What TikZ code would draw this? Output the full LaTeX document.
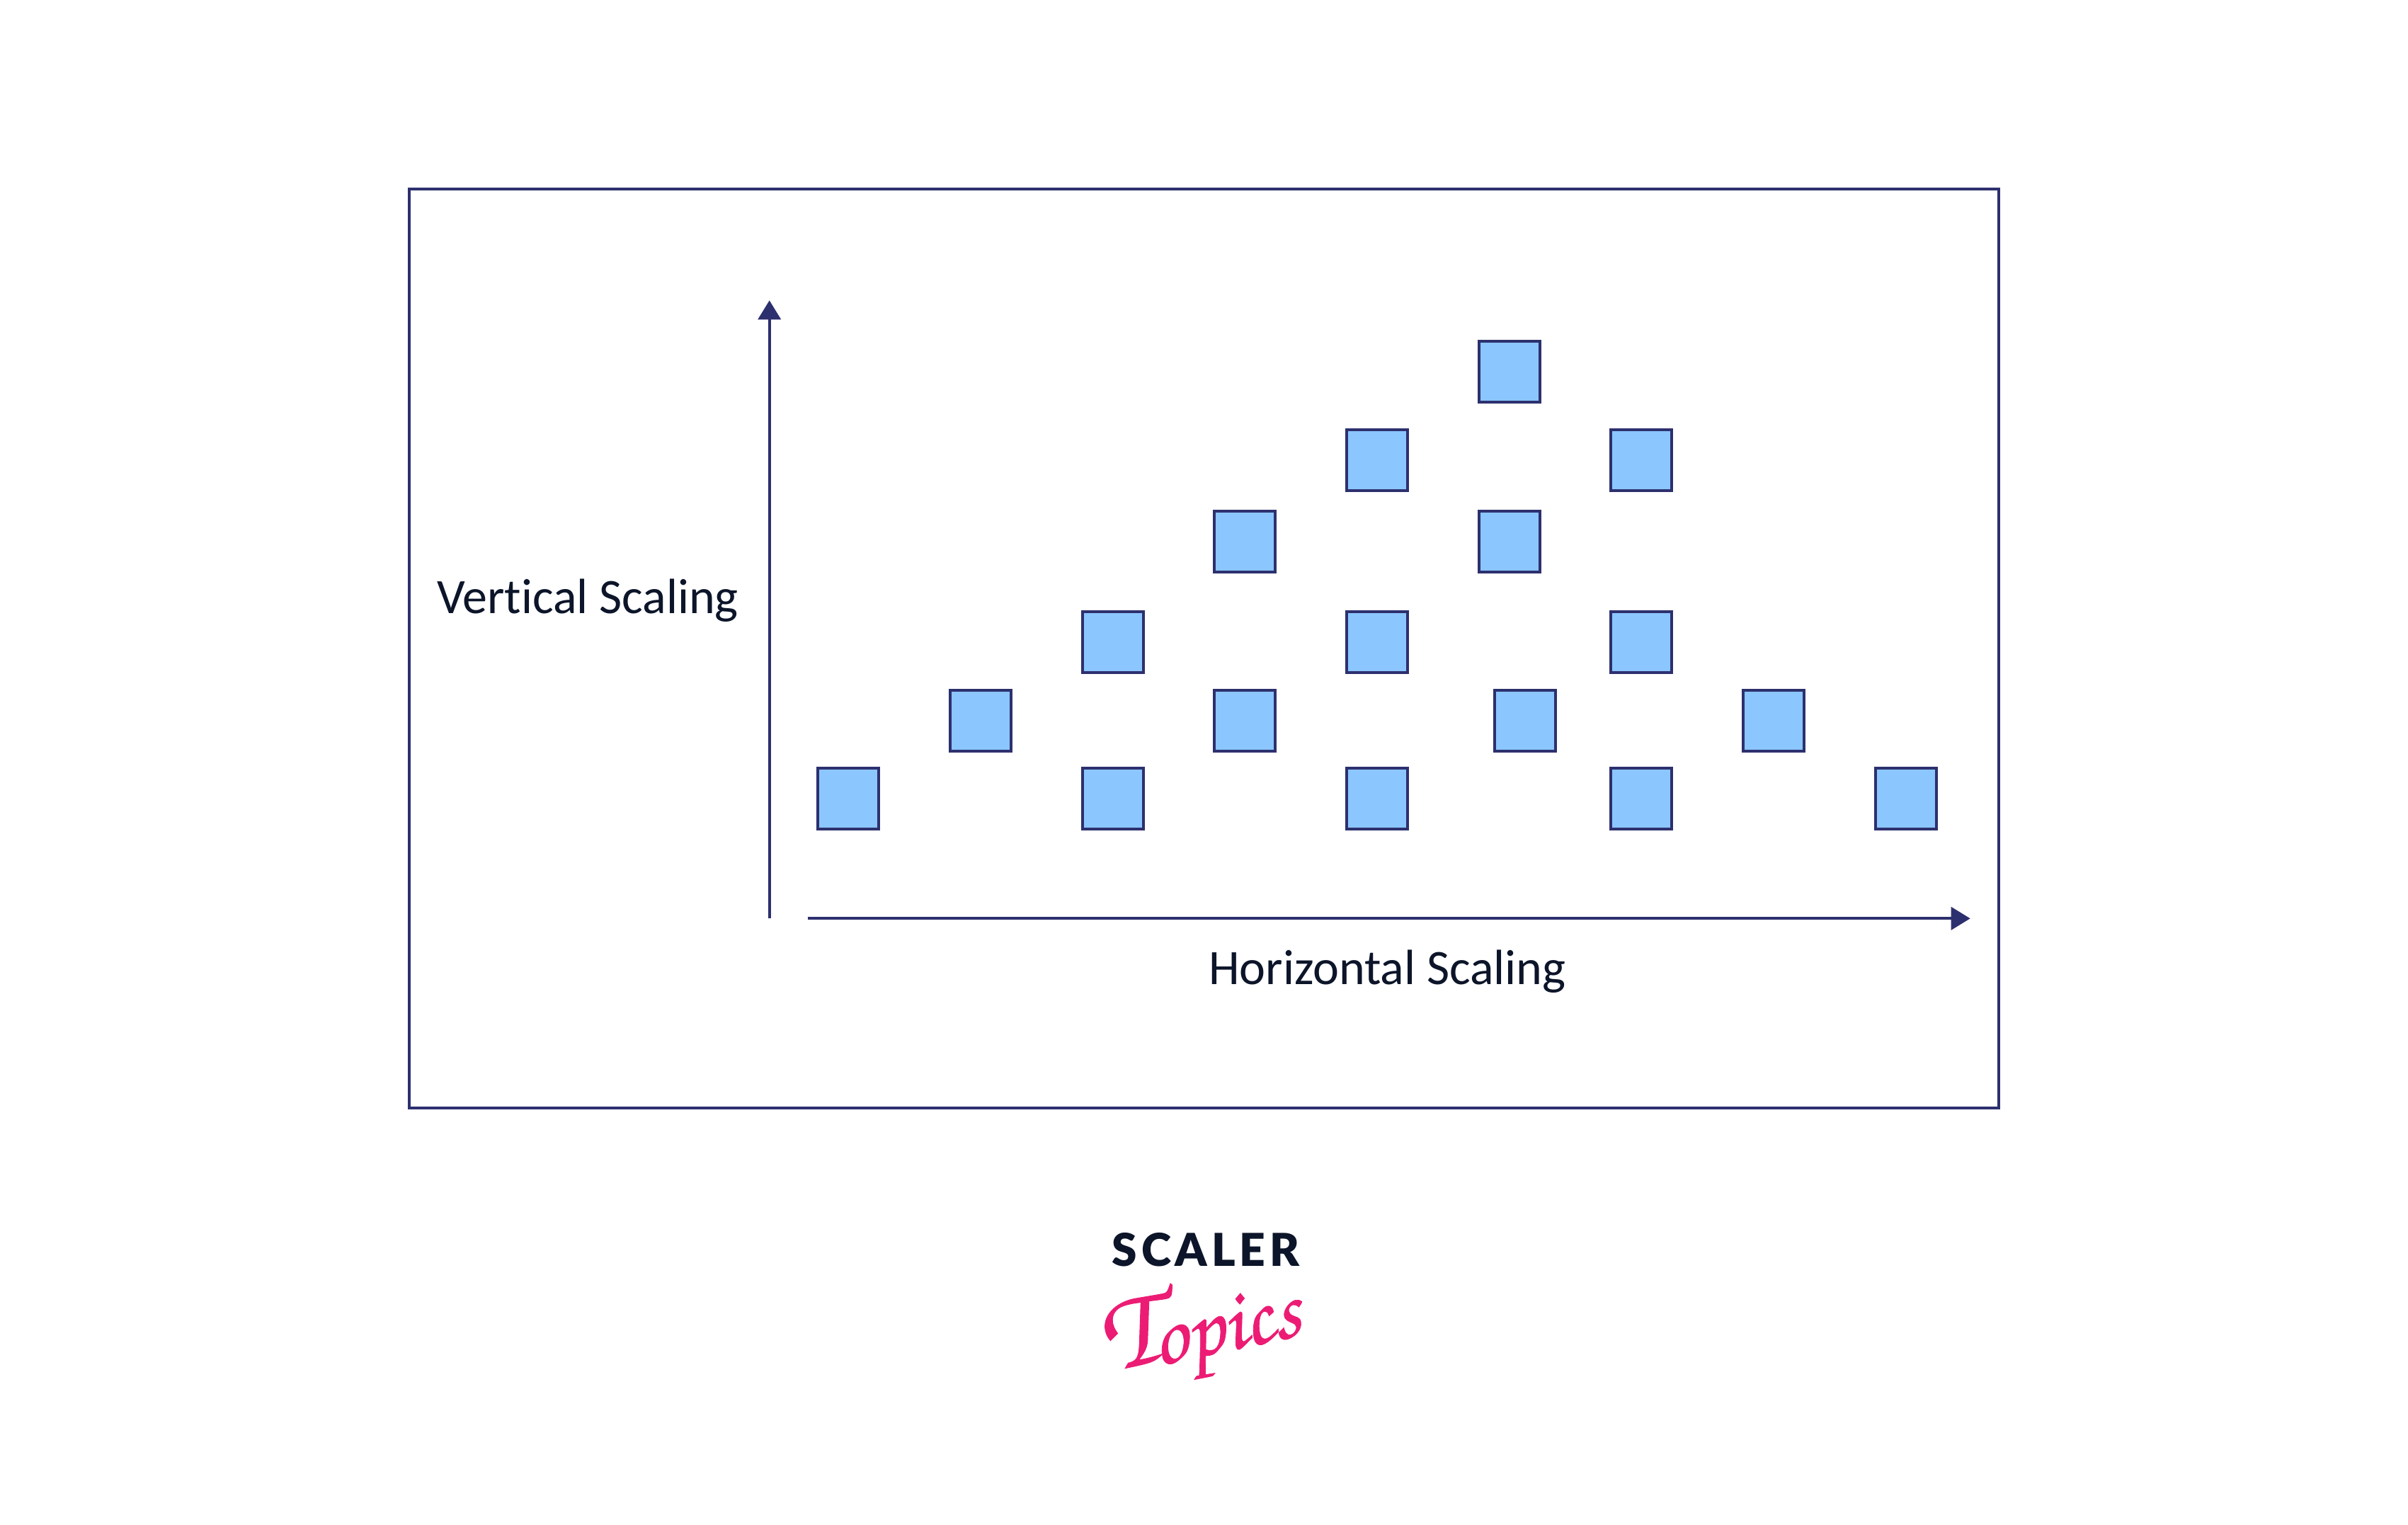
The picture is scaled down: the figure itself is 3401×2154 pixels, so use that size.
\documentclass[tikz,border=0pt]{standalone}
\usepackage{fontspec}
\usetikzlibrary{arrows.meta}
\setmainfont[Ligatures=NoCommon]{Carlito}
\newfontfamily\logobold[LetterSpace=9]{Lato Black}
\newfontfamily\logoscript[FakeBold=0.6]{TeX Gyre Chorus}
\definecolor{navy}{HTML}{2D306E}
\definecolor{sky}{HTML}{8BC6FF}
\definecolor{ink}{HTML}{0C1529}
\definecolor{pink}{HTML}{EC1C74}
\tikzset{
  block/.style={draw=navy,fill=sky,line width=4pt,minimum size=86pt,inner sep=0pt,outer sep=0pt},
  frame/.style={draw=navy,line width=4pt,inner sep=0pt,outer sep=0pt,minimum width=2245pt,minimum height=1298pt},
  axis/.style={draw=navy,line width=4pt,-{Triangle[length=27pt,width=32pt]}},
  lab/.style={text=ink,anchor=base,inner sep=0pt,font=\fontsize{70}{84}\selectfont}
}
\begin{document}
\begin{tikzpicture}[x=1pt,y=-1pt]
\useasboundingbox (0,0) rectangle (3401,2154);
\fill[white] (0,0) rectangle (3401,2154);
\node[frame] (box) at (1700.5,916) {};
\coordinate (vs) at (1086.7,1297.3);
\coordinate (ve) at (1086.7,424.3);
\coordinate (hs) at (1140.7,1297.3);
\coordinate (he) at (2782.7,1297.3);
\draw[axis] (vs) -- (ve);
\draw[axis] (hs) -- (he);
\node[lab] (vlabel) at (830,866) {Vertical Scaling};
\node[lab] (hlabel) at (1959.5,1390) {Horizontal Scaling};
\foreach \n/\x/\y in {
 a1/1198.3/1128.3,a2/1571.5/1128.3,a3/1945/1128.3,a4/2318/1128.3,a5/2691.5/1128.3,
 b1/1385/1018,b2/1758/1018,b3/2153.5/1018,b4/2505/1018,
 c1/1571.5/907,c2/1945/907,c3/2318/907,
 d1/1758/765,d2/2131.5/765,
 e1/1945/650,e2/2318/650,
 f1/2131.5/525}{
  \node[block] (\n) at (\x,\y) {};
}
\node[inner sep=0pt,anchor=base,text=ink,font=\logobold\fontsize{64}{70}\selectfont] (scaler) at (1703,1788) {SCALER};
\node[inner sep=0pt,anchor=base west,text=pink,rotate=12] (topics) at (1564,1938)
  {\logoscript\fontsize{160}{170}\selectfont T\kern-10pt\raisebox{-6pt}{\fontsize{122}{130}\selectfont opics}};
\end{tikzpicture}
\end{document}
